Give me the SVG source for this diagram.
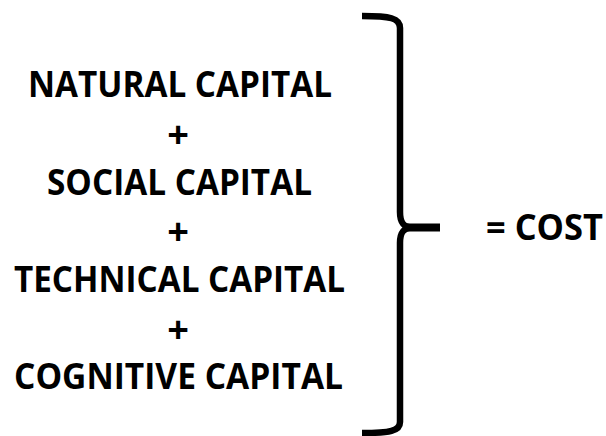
<svg xmlns="http://www.w3.org/2000/svg" width="606" height="436" viewBox="0 0 606 436">
<style>
  .t { font-family: "Open Sans", "Liberation Sans", sans-serif; font-weight: bold; font-size: 35px; fill: #000; }
  .p { font-family: "Open Sans", "Liberation Sans", sans-serif; font-weight: bold; font-size: 38px; fill: #000; text-anchor: middle; }
  .br { fill: none; stroke: #000; stroke-width: 6.5; stroke-linecap: butt; stroke-linejoin: round; }
</style>
<rect width="606" height="436" fill="#fff"/>
<g id="natural"><text class="t" x="28" y="97" textLength="304" lengthAdjust="spacingAndGlyphs">NATURAL CAPITAL</text></g>
<g id="plus1"><text class="p" x="178" y="148">+</text></g>
<g id="social"><text class="t" x="47" y="195" textLength="265" lengthAdjust="spacingAndGlyphs">SOCIAL CAPITAL</text></g>
<g id="plus2"><text class="p" x="178" y="245">+</text></g>
<g id="technical"><text class="t" x="14" y="292" textLength="331" lengthAdjust="spacingAndGlyphs">TECHNICAL CAPITAL</text></g>
<g id="plus3"><text class="p" x="178" y="343">+</text></g>
<g id="cognitive"><text class="t" x="14" y="389" textLength="329" lengthAdjust="spacingAndGlyphs">COGNITIVE CAPITAL</text></g>
<g id="cost"><text class="t" x="486" y="240" textLength="117" lengthAdjust="spacingAndGlyphs">= COST</text></g>
<g id="connectors">
  <path class="br" d="M362,16 C390,16 400,18 400,28 L400,212 C400,222 403,227 412,227.5"/>
  <path class="br" d="M412,227.5 C403,228 400,233 400,243 L400,422 C400,431 390,433 362,433"/>
  <path d="M404,223.5 L440,223.5 L440,231.5 L404,231.5 Z" fill="#000"/>
</g>
</svg>
